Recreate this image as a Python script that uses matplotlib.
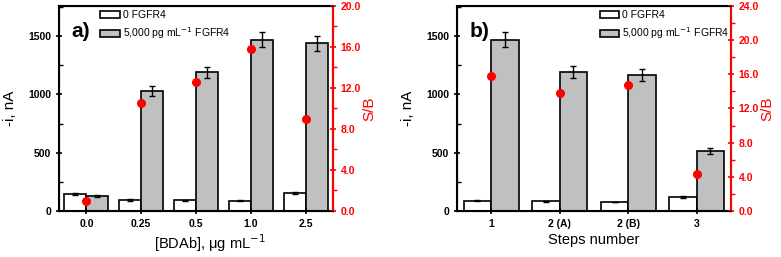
import numpy as np
import matplotlib
matplotlib.use("Agg")
import matplotlib.pyplot as plt
from matplotlib.ticker import MultipleLocator, FormatStrFormatter

plt.rcParams['font.family'] = ['Liberation Sans', 'DejaVu Sans']

# panel a) data
a_labels = ["0.0", "0.25", "0.5", "1.0", "2.5"]
a_blank = [146, 94, 92, 88, 157]
a_blank_err = [8, 6, 6, 6, 8]
a_signal = [131, 1031, 1189, 1469, 1440]
a_signal_err = [8, 45, 51, 63, 66]
a_sb = [0.95, 10.5, 12.6, 15.8, 9.0]

# panel b) data
b_labels = ["1", "2 (A)", "2 (B)", "3"]
b_blank = [88, 83, 77, 120]
b_blank_err = [5, 5, 4, 6]
b_signal = [1469, 1192, 1166, 517]
b_signal_err = [63, 52, 52, 25]
b_sb = [15.8, 13.85, 14.8, 4.33]

RED = "#ff0000"
W = 0.4


def draw_panel(rect, labels, blank, blank_err, signal, signal_err, sb,
               sb_max, xlabel, xlabel_x, tag, leg_x):
    ax = fig.add_axes(rect)
    x = np.arange(len(labels))
    ekw = dict(elinewidth=1.0, capsize=2.5, capthick=1.0, ecolor="black")
    ax.bar(x - W / 2, blank, W, yerr=blank_err, color="white",
           edgecolor="black", linewidth=1.2, error_kw=ekw, label="0 FGFR4")
    ax.bar(x + W / 2, signal, W, yerr=signal_err, color="#c0c0c0",
           edgecolor="black", linewidth=1.2, error_kw=ekw,
           label="5,000 pg mL$^{-1}$ FGFR4")
    ax.set_xlim(-0.5, len(labels) - 0.5)
    ax.set_ylim(0, 1760)
    ax.set_xticks(x)
    ax.set_xticklabels(labels)
    ax.yaxis.set_major_locator(MultipleLocator(500))
    ax.yaxis.set_minor_locator(MultipleLocator(250))
    ax.tick_params(axis="both", which="major", direction="inout", length=5,
                   width=1.2, labelsize=7.5, pad=3)
    ax.tick_params(axis="y", which="minor", direction="in", length=3, width=1.0)
    for lbl in ax.get_xticklabels() + ax.get_yticklabels():
        lbl.set_fontweight("bold")
    for s in ax.spines.values():
        s.set_linewidth(1.5)
    ax.set_xlabel(xlabel, fontsize=10.5)
    ax.xaxis.set_label_coords(xlabel_x, -0.105)
    ax.set_ylabel("-i, nA", fontsize=11, labelpad=8)
    ax.text(0.047, 0.875, tag, transform=ax.transAxes, fontsize=15,
            fontweight="bold", va="center")
    ax.legend(loc="upper left", bbox_to_anchor=(leg_x, 1.02), frameon=False,
              fontsize=7.5, handlelength=1.9, handleheight=0.6,
              handletextpad=0.3, labelspacing=0.5, borderpad=0.3)

    ax2 = ax.twinx()
    ax2.plot(x, sb, "o", color=RED, markersize=5.5)
    ax2.set_ylim(0, sb_max)
    ax2.yaxis.set_major_locator(MultipleLocator(4))
    ax2.yaxis.set_minor_locator(MultipleLocator(2))
    ax2.yaxis.set_major_formatter(FormatStrFormatter("%.1f"))
    ax2.tick_params(axis="y", which="major", direction="inout", length=5,
                    width=1.2, colors=RED, labelsize=7.5, pad=3)
    ax2.tick_params(axis="y", which="minor", direction="out", length=3,
                    width=1.0, colors=RED)
    for lbl in ax2.get_yticklabels():
        lbl.set_fontweight("bold")
    ax2.spines["right"].set_color(RED)
    ax2.spines["right"].set_linewidth(1.5)
    ax2.set_ylabel("S/B", color=RED, fontsize=11, labelpad=1)
    return ax


fig = plt.figure(figsize=(7.81, 2.57), dpi=100)

draw_panel([0.0755, 0.179, 0.351, 0.798], a_labels, a_blank, a_blank_err,
           a_signal, a_signal_err, a_sb, 20, "[BDAb], \u03bcg mL$^{-1}$", 0.55,
           "a)", 0.12)
draw_panel([0.585, 0.179, 0.351, 0.798], b_labels, b_blank, b_blank_err,
           b_signal, b_signal_err, b_sb, 24, "Steps number", 0.5,
           "b)", 0.49)

fig.savefig("out.png", dpi=100)
